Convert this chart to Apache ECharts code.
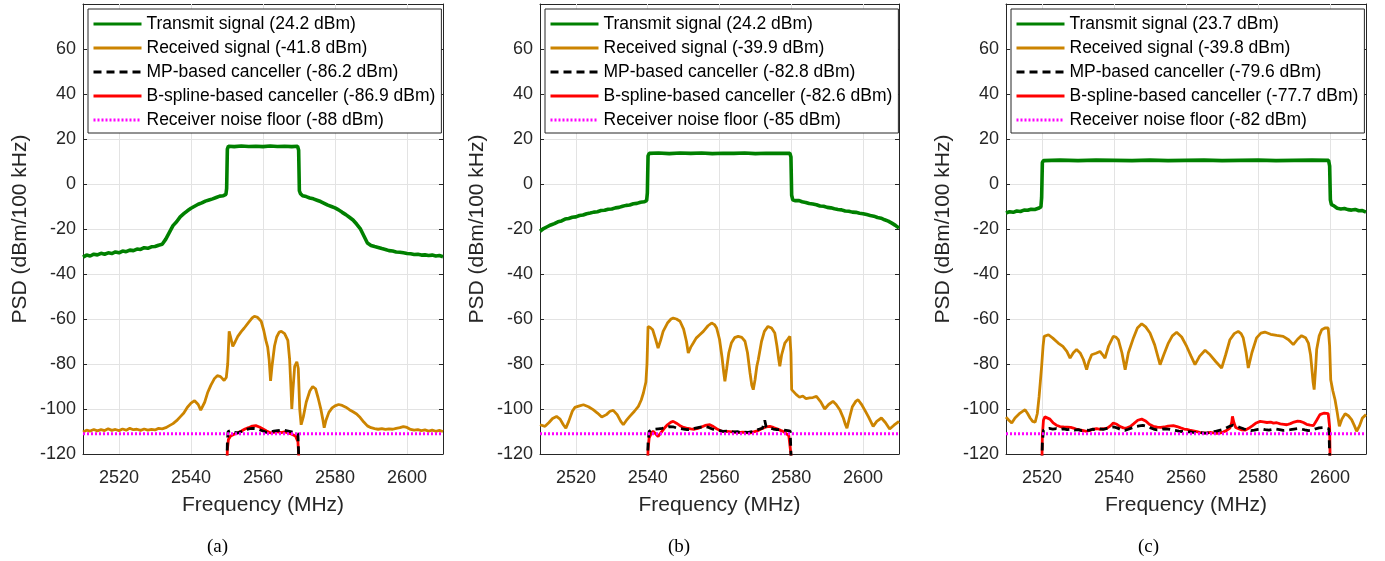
<!DOCTYPE html>
<html>
<head>
<meta charset="utf-8">
<script src="https://cdn.jsdelivr.net/npm/echarts@6/dist/echarts.min.js"></script>
<style>
html,body{margin:0;padding:0;background:#fff;}
#chart{width:1385px;height:561px;}
</style>
</head>
<body>
<div id="chart"></div>
<script>
// ---------- tick / axis labels ----------
const xTicks = [2520, 2540, 2560, 2580, 2600];
const yTicks = [-120, -100, -80, -60, -40, -20, 0, 20, 40, 60];
const captions = ['(a)', '(b)', '(c)'];
const xTitle = 'Frequency (MHz)';
const yTitle = 'PSD (dBm/100 kHz)';

// ---------- legend labels ----------
const namesA = ['Transmit signal (24.2 dBm)', 'Received signal (-41.8 dBm)', 'MP-based canceller (-86.2 dBm)', 'B-spline-based canceller (-86.9 dBm)', 'Receiver noise floor (-88 dBm)'];
const namesB = ['Transmit signal (24.2 dBm)', 'Received signal (-39.9 dBm)', 'MP-based canceller (-82.8 dBm)', 'B-spline-based canceller (-82.6 dBm)', 'Receiver noise floor (-85 dBm)'];
const namesC = ['Transmit signal (23.7 dBm)', 'Received signal (-39.8 dBm)', 'MP-based canceller (-79.6 dBm)', 'B-spline-based canceller (-77.7 dBm)', 'Receiver noise floor (-82 dBm)'];

// ---------- panel (a) ----------
const txA = [[2510,-32.5],[2511,-31.6],[2512,-32],[2513,-31.2],[2514,-31.5],[2515,-30.8],[2516,-31.2],[2517,-30.6],[2518,-30.9],[2519,-30.2],[2520,-30.6],[2521,-29.8],[2522,-30.1],[2523,-29.4],[2524,-29.6],[2525,-28.9],[2526,-29.1],[2527,-28.3],[2528,-28.6],[2529,-27.9],[2530,-27.8],[2531,-27.2],[2532,-26.8],[2533,-24.5],[2534,-21.5],[2535,-18.5],[2536,-16.8],[2537,-14.6],[2538,-13.2],[2539,-11.9],[2540,-10.8],[2541,-9.9],[2542,-9.0],[2543,-8.4],[2544,-7.6],[2545,-7.1],[2546,-6.6],[2547,-6.0],[2548,-5.4],[2549,-5.2],[2549.7,-4.6],[2549.9,-2],[2550.1,15.5],[2550.4,16.8],[2552,16.6],[2554,16.9],[2556,16.7],[2558,16.8],[2560,16.6],[2562,16.9],[2564,16.7],[2566,16.8],[2568,16.6],[2569.6,16.8],[2569.9,15],[2570.1,-3],[2570.4,-4.3],[2571,-5.2],[2572,-5.6],[2573,-6.2],[2574,-6.6],[2575,-7.2],[2576,-7.8],[2577,-8.6],[2578,-9.4],[2579,-10],[2580,-10.6],[2581,-11.5],[2582,-12.6],[2583,-13.6],[2584,-14.8],[2585,-16],[2586,-17.8],[2587,-19.8],[2588,-23],[2589,-26.2],[2590,-27.3],[2591,-27.8],[2592,-28.2],[2593,-28.7],[2594,-29.1],[2595,-29.6],[2596,-29.8],[2597,-30.2],[2598,-30.3],[2599,-30.6],[2600,-30.9],[2601,-31],[2602,-31.3],[2603,-31.2],[2604,-31.6],[2605,-31.5],[2606,-31.8],[2607,-31.6],[2608,-32],[2609,-31.8],[2610,-32.3]];
const rxA = [[2510,-110.2],[2511,-109.4],[2512,-109.8],[2513,-109.1],[2514,-109.7],[2515,-109.2],[2516,-109.6],[2517,-108.8],[2518,-109.5],[2519,-109.1],[2520,-109.6],[2521,-108.9],[2522,-109.4],[2523,-108.6],[2524,-109.2],[2525,-109.0],[2526,-109.5],[2527,-108.9],[2528,-109.4],[2529,-109.1],[2530,-109.3],[2531,-108.6],[2532,-108.8],[2533,-108.3],[2534,-107.4],[2535,-106.5],[2536,-105.2],[2537,-103.5],[2538,-101.8],[2539,-99.2],[2540,-97.4],[2541,-96.3],[2542,-98],[2542.7,-100.5],[2543.2,-100.6],[2543.8,-97],[2544.6,-92.8],[2545.5,-89.5],[2546.5,-86.5],[2547.3,-85.2],[2548.2,-85.6],[2549.2,-87.3],[2549.8,-86],[2550.2,-80],[2550.6,-65.5],[2551.0,-68],[2551.6,-72.2],[2552.3,-70],[2553,-67.7],[2554,-65.5],[2554.8,-64],[2556,-61.5],[2557,-59.5],[2557.6,-58.8],[2558.5,-59.3],[2559.5,-61],[2560.2,-65],[2560.8,-69.5],[2561.3,-72.5],[2561.7,-78],[2562.1,-87.5],[2562.5,-81],[2563.2,-72],[2563.8,-68],[2564.5,-65.8],[2565.1,-65.5],[2566,-66.5],[2566.9,-69.5],[2567.4,-78],[2567.8,-92],[2568.0,-100],[2568.3,-92],[2568.8,-81],[2569.4,-79],[2569.8,-82],[2570.2,-100],[2570.6,-107],[2571.2,-103.5],[2572,-97],[2573,-92],[2573.8,-90],[2574.6,-91],[2575.3,-95],[2576.1,-100.3],[2576.6,-104.5],[2577,-108.3],[2577.5,-105],[2578.3,-101.5],[2579.2,-99.5],[2580,-98.6],[2581,-98],[2582,-98.4],[2583,-99.2],[2584,-100.3],[2585,-101.2],[2586,-102.2],[2587,-103.8],[2588,-105.8],[2589,-107.5],[2590,-108.3],[2591,-108.7],[2592,-109.0],[2593,-108.7],[2594,-109.1],[2595,-108.8],[2596,-109],[2597,-108.6],[2598,-108.3],[2599,-107.8],[2600,-108.2],[2601,-109.1],[2602,-109.4],[2603,-109.2],[2604,-109.6],[2605,-109.3],[2606,-109.8],[2607,-109.4],[2608,-109.9],[2609,-109.5],[2610,-110]];
const mpA = [[2549.9,-130],[2550.1,-115],[2550.3,-110],[2551,-109.6],[2552,-110.4],[2553,-110.6],[2554,-110],[2555,-109.3],[2556,-108.8],[2557,-108.6],[2558,-108.7],[2559,-109.2],[2560,-109.8],[2561,-110.4],[2562,-110.2],[2563,-109.8],[2564,-109.6],[2565,-109.4],[2566,-109.5],[2567,-109.8],[2568,-110.2],[2569,-110.6],[2569.7,-111],[2569.9,-120],[2570.1,-130]];
const bsA = [[2549.9,-130],[2550.1,-118],[2550.4,-113.5],[2551,-112],[2552,-111.2],[2553,-110.6],[2554,-109.8],[2555,-108.9],[2556,-108.3],[2557,-107.6],[2558,-107.4],[2559,-108],[2560,-108.9],[2561,-109.8],[2562,-110.6],[2563,-110.4],[2564,-110.1],[2565,-110.5],[2566,-110.2],[2567,-110.6],[2568,-111.2],[2569,-112],[2569.7,-114.5],[2569.9,-120],[2570.1,-130]];
const nfA = [[2510,-111],[2610,-111]];

// ---------- panel (b) ----------
const txB = [[2510,-21],[2511,-19.8],[2512,-19],[2513,-18.2],[2514,-17.6],[2515,-16.8],[2516,-16.4],[2517,-15.6],[2518,-15.3],[2519,-14.8],[2520,-14.6],[2521,-14],[2522,-13.8],[2523,-13.2],[2524,-12.9],[2525,-12.5],[2526,-12.3],[2527,-11.8],[2528,-11.7],[2529,-11.2],[2530,-11.1],[2531,-10.6],[2532,-10.4],[2533,-9.9],[2534,-9.5],[2535,-9.3],[2536,-8.8],[2537,-8.6],[2538,-8.1],[2539,-7.9],[2539.7,-7.4],[2539.9,-4],[2540.1,12.5],[2540.4,13.6],[2543,13.8],[2546,13.5],[2549,13.8],[2552,13.6],[2555,13.8],[2558,13.5],[2561,13.7],[2564,13.6],[2567,13.8],[2570,13.5],[2573,13.7],[2576,13.6],[2579.6,13.7],[2579.9,12],[2580.1,-5],[2580.4,-7],[2581,-7.4],[2582,-7.3],[2583,-7.9],[2584,-8.2],[2585,-8.7],[2586,-8.9],[2587,-9.2],[2588,-9.8],[2589,-9.9],[2590,-10.4],[2591,-10.6],[2592,-11],[2593,-11.3],[2594,-11.5],[2595,-12],[2596,-12.1],[2597,-12.5],[2598,-12.6],[2599,-13],[2600,-13.2],[2601,-13.6],[2602,-14],[2603,-14.3],[2604,-14.9],[2605,-15.2],[2606,-15.9],[2607,-16.5],[2608,-17.4],[2609,-18.4],[2610,-19.6]];
const rxB = [[2510,-107],[2511.4,-107.7],[2512.5,-106],[2513.5,-104.2],[2514.6,-103.3],[2515.6,-104.5],[2516.5,-107],[2517.2,-108.5],[2518,-105.5],[2519,-101],[2519.7,-99.3],[2521,-98.6],[2522.1,-98.1],[2523.5,-99],[2524.8,-100.3],[2526,-101.8],[2527.2,-103.6],[2528.5,-102.5],[2529.5,-101],[2530.4,-100.6],[2531.5,-102.5],[2532.5,-105.5],[2533.2,-107],[2534,-105.2],[2535,-103.3],[2536.3,-101],[2537.4,-98.8],[2538.2,-96],[2538.8,-92.9],[2539.5,-88],[2539.8,-80],[2540.1,-63.3],[2540.7,-63.8],[2541.4,-64.8],[2542.2,-69],[2542.9,-72.9],[2543.6,-69.5],[2544.3,-65.5],[2545.5,-61.8],[2546.5,-60],[2547.1,-59.6],[2548,-60],[2549,-61],[2550,-64.5],[2550.8,-70],[2551.3,-75.1],[2552,-72.5],[2552.7,-70.7],[2553.5,-68.5],[2554.5,-67],[2555.5,-65.5],[2556.8,-63],[2557.8,-61.8],[2558.6,-62.5],[2559.2,-64],[2560,-69],[2560.7,-77],[2561.2,-84],[2561.5,-87.7],[2562,-82],[2562.6,-75],[2563.3,-70.7],[2564.2,-68.3],[2565.2,-67.7],[2566.2,-68.2],[2567.1,-69.9],[2567.8,-75],[2568.5,-84],[2569,-89.5],[2569.4,-91.4],[2569.9,-87],[2570.4,-81],[2570.8,-78.1],[2571.7,-70],[2572.5,-65.5],[2573.5,-63.3],[2574.5,-64],[2575.4,-66.2],[2576,-72],[2576.5,-78],[2576.8,-81],[2577.3,-76],[2578.2,-70.7],[2579,-69],[2579.6,-67.7],[2579.9,-75],[2580.1,-91.4],[2581.4,-93.6],[2582.3,-94.8],[2583.2,-94.2],[2584.1,-95.4],[2585.1,-95.1],[2586,-94.9],[2587,-94.4],[2588.2,-96.8],[2589.3,-100],[2590.4,-98],[2591.6,-96.6],[2592.5,-98],[2593.5,-100.3],[2594.5,-104],[2595.1,-107],[2595.5,-108.5],[2596.2,-104],[2597,-99],[2598,-96.5],[2598.6,-95.9],[2599.5,-97.8],[2600.4,-100.3],[2601.5,-103.5],[2602.8,-107.7],[2603.8,-105.5],[2605.1,-104],[2606.2,-106],[2607.4,-108.9],[2608.6,-107.2],[2610,-105.5]];
const mpB = [[2539.9,-130],[2540.1,-115],[2540.4,-110],[2541,-109.3],[2542,-109],[2543,-108.8],[2544,-108.6],[2545,-108.2],[2546,-107.8],[2547,-107.9],[2548,-108.4],[2549,-108.7],[2550,-108.9],[2551,-109.2],[2552,-109],[2553,-108.6],[2554,-108.3],[2555,-108],[2556,-107.8],[2557,-108.2],[2558,-108.9],[2559,-109.5],[2560,-109.6],[2561,-109.9],[2562,-109.8],[2563,-110],[2564,-110.2],[2565,-110.1],[2566,-110.5],[2567,-110.3],[2568,-110.4],[2569,-110.1],[2570,-109.6],[2571,-109],[2572,-108.5],[2572.6,-105],[2573,-108],[2574,-108.4],[2575,-108.9],[2576,-109.2],[2577,-109.1],[2578,-109.4],[2579,-109.6],[2579.7,-109.8],[2579.9,-120],[2580.1,-130]];
const bsB = [[2539.9,-130],[2540.1,-118],[2540.4,-113],[2541,-110.8],[2541.5,-109.9],[2542.2,-111],[2542.9,-112.2],[2543.7,-110.5],[2544.5,-108.8],[2545.5,-107],[2546.5,-105.8],[2547.1,-105.5],[2548,-106.3],[2549,-107.4],[2550,-108.2],[2550.8,-108.5],[2552,-108.8],[2553,-109],[2554,-108.6],[2555,-108],[2556,-107.3],[2557.3,-107],[2558.3,-107.8],[2559.3,-108.9],[2560.5,-109.8],[2562,-109.9],[2563.5,-110.2],[2565,-110.5],[2566.5,-110.3],[2568.4,-110.7],[2569.5,-110.2],[2570.8,-109.6],[2572,-108.6],[2573,-107.9],[2574,-107.7],[2575,-108.2],[2576,-108.8],[2577,-109.5],[2577.7,-109.9],[2578.5,-110.8],[2579.3,-111.8],[2579.7,-112.5],[2579.9,-120],[2580.1,-130]];
const nfB = [[2510,-111],[2610,-111]];

// ---------- panel (c) ----------
const txC = [[2510,-12.9],[2511,-12.3],[2512,-12.6],[2513,-12],[2514,-12.2],[2515,-11.6],[2516,-11.7],[2517,-11.2],[2518,-11.3],[2519,-10.8],[2519.7,-10.2],[2519.9,-6],[2520.1,9.5],[2520.4,10.4],[2525,10.6],[2530,10.4],[2535,10.6],[2540,10.5],[2545,10.4],[2550,10.6],[2555,10.4],[2560,10.5],[2565,10.6],[2570,10.4],[2575,10.5],[2580,10.6],[2585,10.4],[2590,10.5],[2595,10.6],[2599.6,10.5],[2599.9,8],[2600.1,-7],[2600.4,-9.2],[2601,-9.6],[2602,-10.8],[2603,-11.1],[2604,-10.9],[2605,-11.4],[2606,-11.6],[2607,-11.3],[2608,-11.9],[2609,-11.8],[2610,-12.5]];
const rxC = [[2510,-103.6],[2510.8,-105],[2511.6,-106.2],[2512.5,-104],[2513.9,-101.8],[2515.3,-100.3],[2516,-102],[2516.7,-104],[2517.4,-105.5],[2518.1,-105.9],[2518.7,-102],[2519.2,-94.4],[2519.9,-81],[2520.3,-72],[2520.6,-67.7],[2521.8,-67],[2523,-68.5],[2524.5,-70.7],[2525.8,-72.2],[2526.9,-74.4],[2527.8,-77.4],[2528.7,-75],[2529.6,-73.6],[2530.6,-75.1],[2531.5,-78],[2532.4,-82.5],[2533,-79],[2533.8,-75.9],[2535,-75.2],[2536.1,-74.4],[2536.8,-75.8],[2537.5,-77.4],[2538.5,-72],[2539.8,-67.7],[2540.5,-68],[2541.2,-69.2],[2542.2,-75],[2543.1,-82.5],[2544,-75],[2545.4,-68.4],[2546.5,-64],[2547.7,-62.1],[2548.8,-63.5],[2550,-66.2],[2551.3,-71.5],[2552.8,-80.3],[2553.8,-76],[2555.1,-70.7],[2556.2,-67.5],[2557.4,-65.9],[2558.8,-68],[2560.2,-72.2],[2561.4,-76.5],[2562.5,-80.3],[2563.8,-76.5],[2565.3,-73.9],[2566.7,-75.9],[2568.3,-79],[2569.9,-81.8],[2571,-76],[2572.2,-69.2],[2573.4,-66.5],[2574.5,-65.5],[2575.3,-66.5],[2575.9,-68.4],[2576.7,-75],[2577.3,-81.8],[2578.3,-75],[2579.6,-68.4],[2580.8,-66.3],[2581.9,-65.8],[2583.5,-66.8],[2585.2,-67.3],[2587,-67.7],[2588.5,-69.2],[2589.8,-71.4],[2591,-69],[2592.1,-67.4],[2593.2,-68.3],[2594,-70.7],[2594.6,-76],[2594.9,-81],[2595.3,-88],[2595.6,-91.4],[2596,-82],[2596.3,-73.6],[2597,-67.5],[2597.7,-64.8],[2598.6,-64],[2599.5,-64],[2599.9,-72],[2600.2,-87],[2600.8,-92],[2601.4,-95.9],[2602,-101.5],[2602.6,-107.7],[2603.3,-104.5],[2604.2,-102.1],[2605.1,-103],[2606,-104.7],[2606.8,-107.5],[2607.4,-109.9],[2608.2,-107.5],[2609,-104],[2610,-102.5]];
const mpC = [[2519.9,-130],[2520.1,-115],[2520.4,-109.5],[2521,-108.8],[2522,-108.6],[2523,-108.9],[2524,-108.7],[2525,-109.1],[2526,-108.8],[2527,-109.2],[2528,-109],[2529,-109.4],[2530,-109.2],[2531,-109.6],[2532,-109.3],[2533,-109.5],[2534,-109],[2535,-109.2],[2536,-108.8],[2537,-109.1],[2538,-108.6],[2539,-108.2],[2540,-108],[2541,-108.5],[2542,-109.2],[2543,-109.5],[2544,-109],[2545,-108.4],[2546,-107.8],[2547,-107.5],[2548,-107.3],[2549,-107.7],[2550,-108.3],[2551,-108.9],[2552,-109.3],[2553,-109.1],[2554,-108.8],[2555,-108.9],[2556,-109.2],[2557,-109.5],[2558,-109.8],[2559,-110],[2560,-110.2],[2561,-110.1],[2562,-110.4],[2563,-110.6],[2564,-110.5],[2565,-110.7],[2566,-110.6],[2567,-110.3],[2568,-110],[2569,-109.6],[2570,-109.2],[2571,-108.6],[2572,-107.8],[2573,-107.2],[2574,-107.6],[2575,-108.2],[2576,-108.8],[2577,-109.3],[2578,-109.6],[2579,-109.4],[2580,-109.1],[2581,-108.9],[2582,-109.2],[2583,-109.4],[2584,-109.1],[2585,-108.9],[2586,-109.2],[2587,-109.5],[2588,-109.4],[2589,-109.2],[2590,-108.9],[2591,-108.7],[2592,-108.9],[2593,-109.3],[2594,-109.6],[2595,-109.4],[2596,-108.8],[2597,-108.4],[2598,-108.3],[2599,-108.5],[2599.7,-108.8],[2599.9,-120],[2600.1,-130]];
const bsC = [[2519.9,-130],[2520.1,-112],[2520.4,-105],[2520.8,-103.5],[2521.3,-103.3],[2522.2,-104.5],[2523.1,-106.2],[2524,-107.2],[2525,-107.8],[2526,-108],[2527,-108.1],[2528,-108.2],[2528.7,-108.5],[2529.5,-108.9],[2530.5,-109.3],[2531.5,-109.6],[2532.4,-109.9],[2533.3,-109.5],[2534.2,-109],[2535.2,-108.7],[2536,-109],[2537,-108.7],[2538,-108.6],[2539,-107.5],[2539.8,-106.2],[2540.8,-106.8],[2541.7,-107.8],[2542.6,-108.4],[2543.5,-108.5],[2544.5,-107.8],[2545.5,-106.5],[2546.6,-105],[2547.7,-104.5],[2548.8,-105.3],[2549.8,-106.8],[2550.9,-107.7],[2552,-108.1],[2553,-108.2],[2554,-108],[2555,-107.6],[2556.5,-107.4],[2557.5,-107.8],[2558.5,-108.4],[2559.5,-108.9],[2560.2,-109.1],[2561,-109.4],[2562,-109.7],[2563,-110.1],[2564,-110.5],[2565,-110.6],[2565.7,-110.7],[2566.7,-110.4],[2567.6,-110.6],[2568.5,-110.8],[2569.4,-110.7],[2570.3,-110.2],[2571.2,-109.6],[2572.2,-108.5],[2572.7,-106],[2572.9,-103.3],[2573.3,-106],[2573.8,-108.2],[2574.6,-108.8],[2575.5,-109.3],[2576.4,-109.4],[2577.4,-108.6],[2578.5,-107.4],[2579.5,-106.2],[2580.6,-105.5],[2581.5,-105.7],[2582.5,-106],[2583.5,-105.8],[2584.3,-106.3],[2585.2,-106.1],[2586.2,-106.6],[2587.2,-106.8],[2588,-107],[2589,-106.5],[2590,-105.8],[2591,-105.4],[2591.7,-105.5],[2592.6,-106],[2593.5,-106.8],[2594.5,-107.2],[2595.4,-107.4],[2596.3,-105],[2597.2,-102.5],[2598.4,-101.8],[2599.5,-102.1],[2599.9,-108],[2600.1,-130]];
const nfC = [[2510,-111],[2610,-111]];

// ---------- build ----------
const FONT = '"Liberation Sans", Arial, Helvetica, sans-serif';
const AX = '#262626';
const GRIDC = '#e3e3e3';
const panels = [
  {left: 83, width: 360, names: namesA, tx: txA, rx: rxA, mp: mpA, bs: bsA, nf: nfA, capX: 219},
  {left: 540, width: 359, names: namesB, tx: txB, rx: rxB, mp: mpB, bs: bsB, nf: nfB, capX: 680},
  {left: 1006, width: 360, names: namesC, tx: txC, rx: rxC, mp: mpC, bs: bsC, nf: nfC, capX: 1150}
];
const TOP = 4, HEIGHT = 450;

const grid = [], xAxis = [], yAxis = [], series = [], legend = [], graphic = [];
panels.forEach((p, i) => {
  grid.push({left: p.left, top: TOP, width: p.width, height: HEIGHT, containLabel: false, show: false});
  const xBase = {gridIndex: i, type: 'value', min: 2510, max: 2610, interval: 10,
    axisLine: {show: true, onZero: false, lineStyle: {color: AX, width: 1}},
    axisTick: {show: true, inside: true, length: 4, lineStyle: {color: AX}, customValues: xTicks},
    minorTick: {show: false}, splitLine: {show: false}};
  xAxis.push(Object.assign({}, xBase, {position: 'bottom',
    name: xTitle, nameLocation: 'middle', nameGap: 41,
    nameTextStyle: {fontFamily: FONT, fontSize: 21, color: AX},
    axisLabel: {show: true, fontFamily: FONT, fontSize: 18, color: AX, margin: 15, customValues: xTicks,
      formatter: v => xTicks.indexOf(v) >= 0 ? String(v) : ''}}));
  xAxis.push(Object.assign({}, xBase, {position: 'top', axisLabel: {show: false}}));
  const yBase = {gridIndex: i, type: 'value', min: -120, max: 80, interval: 20,
    axisLine: {show: true, onZero: false, lineStyle: {color: AX, width: 1}},
    axisTick: {show: true, inside: true, length: 4, lineStyle: {color: AX}}};
  yAxis.push(Object.assign({}, yBase, {position: 'left',
    name: yTitle, nameLocation: 'middle', nameGap: 52, nameRotate: 90,
    nameTextStyle: {fontFamily: FONT, fontSize: 21, color: AX},
    axisLabel: {show: true, fontFamily: FONT, fontSize: 18, color: AX, margin: 7,
      formatter: v => yTicks.indexOf(v) >= 0 ? String(v) : ''},
    splitLine: {show: true, lineStyle: {color: GRIDC, width: 1}}}));
  yAxis.push(Object.assign({}, yBase, {position: 'right', axisLabel: {show: false}, splitLine: {show: false}}));

  const common = {type: 'line', xAxisIndex: 2 * i, yAxisIndex: 2 * i, symbol: 'none', clip: true, animation: false, silent: true};
  // vertical grid lines at the x tick values (drawn beneath all curves)
  series.push(Object.assign({}, common, {name: 'xgrid' + i, data: [], z: 1,
    markLine: {silent: true, z: 1, symbol: ['none', 'none'], animation: false, label: {show: false},
      lineStyle: {color: GRIDC, width: 1, type: 'solid'},
      data: xTicks.map(v => ({xAxis: v}))}}));
  series.push(Object.assign({}, common, {name: p.names[0], data: p.tx, lineStyle: {color: '#008000', width: 3.6}, itemStyle: {color: '#008000'}, z: 12}));
  series.push(Object.assign({}, common, {name: p.names[1], data: p.rx, lineStyle: {color: '#CC8400', width: 2.8}, itemStyle: {color: '#CC8400'}, z: 13}));
  series.push(Object.assign({}, common, {name: p.names[3], data: p.bs, lineStyle: {color: '#FF0000', width: 2.8}, itemStyle: {color: '#FF0000'}, z: 14}));
  series.push(Object.assign({}, common, {name: p.names[2], data: p.mp, lineStyle: {color: '#000000', width: 2.8, type: [8, 5]}, itemStyle: {color: '#000000'}, z: 15}));
  series.push(Object.assign({}, common, {name: p.names[4], data: p.nf, lineStyle: {color: '#FF00FF', width: 2.8, type: [2, 2]}, itemStyle: {color: '#FF00FF'}, z: 16}));

  legend.push({data: p.names, orient: 'vertical', left: p.left + 5, top: 9,
    backgroundColor: '#ffffff', borderColor: AX, borderWidth: 1, padding: [5, 6, 3, 4],
    itemWidth: 48, itemHeight: 14, itemGap: 4, selectedMode: false, z: 30,
    itemStyle: {opacity: 0, borderWidth: 0},
    lineStyle: {width: 3},
    textStyle: {fontFamily: FONT, fontSize: 17.5, color: '#000', lineHeight: 20}});

  graphic.push({type: 'text', left: p.capX - 12, top: 538,
    style: {text: captions[i], font: '19px "Liberation Serif", "Times New Roman", serif', fill: '#000'}});
});

const chart = echarts.init(document.getElementById('chart'), null, {renderer: 'canvas'});
chart.setOption({
  animation: false,
  backgroundColor: '#ffffff',
  grid, xAxis, yAxis, series, legend, graphic
});
</script>
</body>
</html>
